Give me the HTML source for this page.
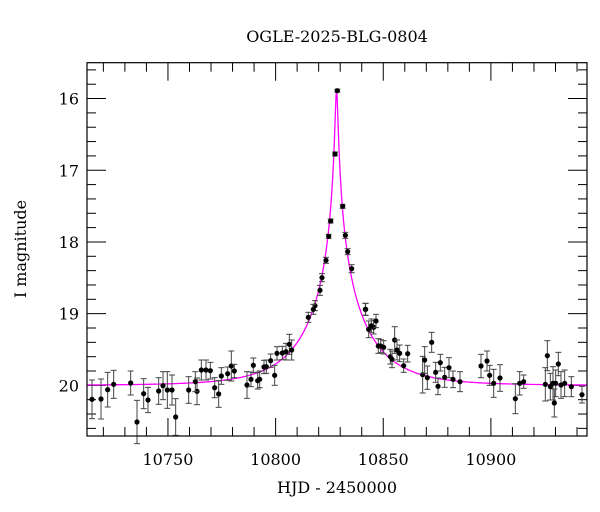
<!DOCTYPE html>
<html><head><style>
html,body{margin:0;padding:0;background:#fff;}
svg{display:block;font-family:"DejaVu Serif","Liberation Serif",serif;}
</style></head><body>
<svg id="s" width="600" height="512" viewBox="0 0 600 512" xmlns="http://www.w3.org/2000/svg">
<rect width="600" height="512" fill="#fff"/>
<text x="337" y="42" font-size="16" text-anchor="middle" fill="#000">OGLE-2025-BLG-0804</text>
<text x="337" y="493" font-size="16" text-anchor="middle" fill="#000">HJD - 2450000</text>
<text transform="translate(26,249) rotate(-90)" font-size="16" text-anchor="middle" fill="#000">I magnitude</text>
<g id="ticks" stroke="#000" stroke-width="1"></g>
<g id="labels" font-size="16" fill="#000"></g>
<path id="curve" fill="none" stroke="#ff00ff" stroke-width="1.3"/>
<g id="data"></g>
<rect x="87" y="62.7" width="500" height="373.3" fill="none" stroke="#000" stroke-width="1.2"/>
</svg>
<script>
var NS="http://www.w3.org/2000/svg";
function el(p,n,a,t){var e=document.createElementNS(NS,n);for(var k in a)e.setAttribute(k,a[k]);if(t)e.textContent=t;p.appendChild(e);return e;}
var L=87,R=587,T=62.7,B=436;
var px=function(d){return L+(d-10712.4)*2.153;};
var py=function(m){return T+(m-15.5)*71.7;};
var tg=document.getElementById('ticks'),lg=document.getElementById('labels');
for(var d=10720;d<=10940;d+=10){var x=px(d);var maj=(d%50==0);var len=maj?18:9;
 el(tg,'line',{x1:x,y1:B,x2:x,y2:B-len});el(tg,'line',{x1:x,y1:T,x2:x,y2:T+len});
 if(maj)el(lg,'text',{x:x,y:B+29,'text-anchor':'middle'},String(d));}
for(var i=0;i<=25;i++){var m=15.6+i*0.2;m=Math.round(m*10)/10;if(m>20.7)break;var y=py(m);var maj=Math.abs(m-Math.round(m))<1e-6;var len=maj?19:9;
 el(tg,'line',{x1:L,y1:y,x2:L+len,y2:y});el(tg,'line',{x1:R,y1:y,x2:R-len,y2:y});
 if(maj)el(lg,'text',{x:L-8,y:y+6,'text-anchor':'end'},String(Math.round(m)));}
var t0=10828.3,u0=0.0227,tE=27.3,d0="";
for(var x=L;x<=R;x+=0.5){var t=10712.4+(x-L)/2.153;var tau=(t-t0)/tE;var u=Math.sqrt(u0*u0+tau*tau);
 var A=(u*u+2)/(u*Math.sqrt(u*u+4));var m=20.0-2.5*Math.log10(A);d0+=(x==L?"M":"L")+x.toFixed(1)+","+py(m).toFixed(1);}
document.getElementById('curve').setAttribute('d',d0);
var pts=[];
var z4=[[15,238,58],[42,237,60],[62,209,52],[80,193,42],[131,189,36],[150,306,65],[170,221,45],[183,240,38],[215,213,40],[228,197,42],[241,210,55],[255,210,45],[266,291,55],[305,210,40],[330,214,40],[325,185,30],[343,150,30],[357,150,30],[370,152,25],[383,203,30],[395,222,40],[403,168,25],[422,161,20],[433,138,45],[442,153,20],[480,195,40],[492,178,22],[499,136,22],[512,182,25],[518,178,25],[531,141,20],[538,140,20],[551,122,20],[563,166,30],[570,100,20],[586,99,20],[597,95,25],[607,73,30],[614,90,30]];
z4.forEach(function(p){pts.push([87+p[0]/3,320+p[1]/3,p[2]/3]);});
var z5=[[85,28,18],[95,88,25],[103,77,20],[110,82,20],[117,63,20],[124,138,22],[131,138,20],[140,142,20],[160,170,22],[165,178,25],[173,120,40],[180,150,30],[188,160,25],[200,197,20],[212,161,25],[257,224,55],[263,180,40],[271,233,35],[284,127,30],[296,217,30],[303,259,25],[310,188,25],[323,232,30],[336,203,30],[348,238,25],[369,245,30],[432,198,35],[450,183,30],[458,226,30],[470,250,42],[489,234,40],[535,296,45],[548,250,35],[560,245,20],[625,253,50],[631,167,45],[640,260,40],[648,250,50],[652,309,42],[656,250,40],[664,192,35],[672,255,40],[683,250,40],[703,260,30],[735,284,25]];
z5.forEach(function(p){pts.push([337+p[0]/3,300+p[1]/3,p[2]/3]);});
var z6=[[142,32,1.5],[135,222,2],[158,379,2],[122,423,2],[116,469,2],[166,466,3],[173,515,3],[108,541,3],[185,566,4],[96,593,4],[90,631,5],[75,677,5],[70,688,5],[55,712,5],[227,688,6]];
z6.forEach(function(p){pts.push([290+p[0]/3,80+p[1]/3,p[2]]);});
var dg=document.getElementById('data');
pts.forEach(function(p){var x=p[0],y=p[1],e=p[2];
 el(dg,'line',{x1:x,y1:y-e,x2:x,y2:y+e,stroke:'#444','stroke-width':1});
 el(dg,'line',{x1:x-3,y1:y-e,x2:x+3,y2:y-e,stroke:'#444','stroke-width':1});
 el(dg,'line',{x1:x-3,y1:y+e,x2:x+3,y2:y+e,stroke:'#444','stroke-width':1});
 el(dg,'circle',{cx:x,cy:y,r:2.6,fill:'#000'});});
</script>
</body></html>
